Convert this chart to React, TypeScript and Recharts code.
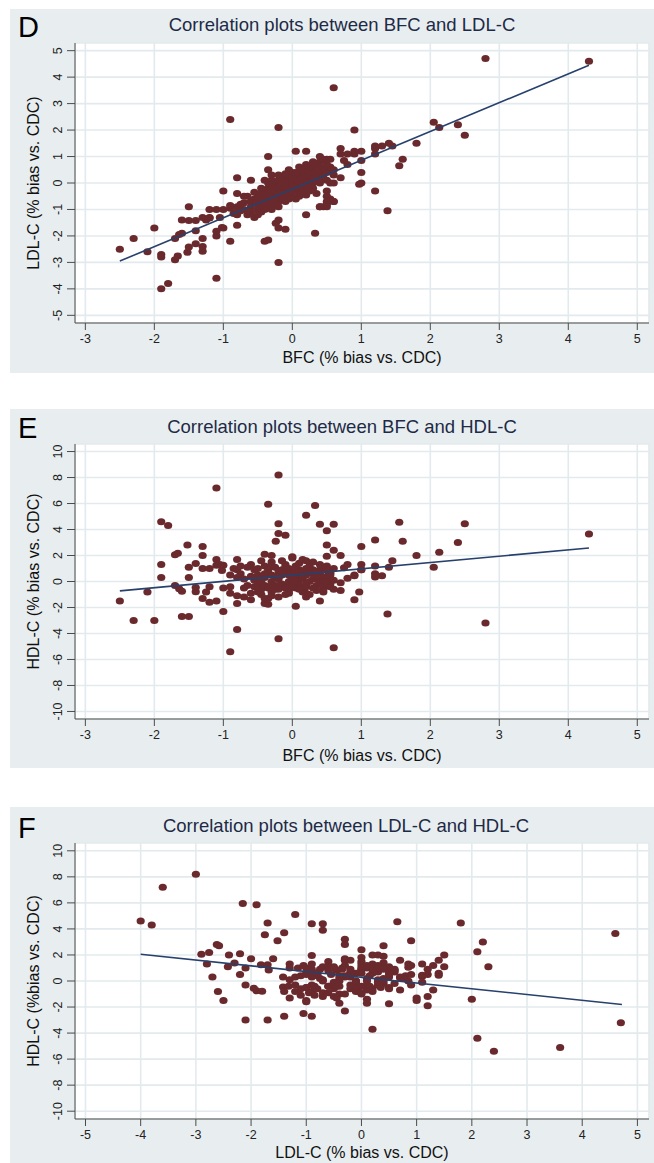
import { ScatterChart, Scatter, XAxis, YAxis, CartesianGrid, Label } from "recharts";

// each sample: [BFC bias, LDL-C bias, HDL-C bias] in % vs. CDC
const outlierSamples = [
  [-1.9, -4.0, 4.6], [-1.8, -3.8, 4.3], [-1.1, -3.6, 7.2], [-0.2, -3.0, 8.2],
  [-1.7, -2.9, 2.05], [-1.66, -2.76, 2.18], [-1.9, -2.8, 1.3], [-1.9, -2.7, 0.3],
  [-1.52, -2.62, 2.8], [-1.3, -2.58, 2.7], [-2.1, -2.6, -0.8], [-2.5, -2.5, -1.5],
  [-1.3, -2.4, 2.0], [-1.5, -2.42, 1.1], [-1.4, -2.3, 1.38], [-0.4, -2.2, 2.1],
  [-0.9, -2.2, 0.5], [-0.35, -2.15, 5.95], [-1.3, -2.1, 1.0], [-1.7, -2.1, -0.3],
  [-2.3, -2.1, -3.0], [-1.1, -2.0, 1.7], [0.33, -1.9, 5.85], [-1.64, -1.95, -0.55],
  [-1.6, -1.9, -0.75], [-1.4, -1.8, -0.78], [-1.1, -1.82, 1.25], [-0.1, -1.75, 3.55],
  [-0.2, -1.7, 4.45], [-1.0, -1.7, 1.25], [-1.02, -1.68, 0.85], [-2.0, -1.7, -3.0],
  [-0.8, -1.6, 1.7], [-0.24, -1.52, 3.1], [-0.2, -1.4, 3.7], [-1.5, -1.42, 0.3],
  [-1.6, -1.4, -2.7], [-1.4, -1.42, -0.46], [-1.25, -1.4, -0.8], [-1.05, -1.3, 1.3],
  [-1.2, -1.3, 1.0], [-1.3, -1.3, -1.3], [-1.2, -1.32, -0.4], [0.2, -1.2, 5.1],
  [-0.85, -1.15, 1.0], [-0.8, -1.2, 0.3], [1.38, -1.05, -2.5], [-1.2, -1.0, -1.6],
  [-1.1, -1.0, -1.5], [-1.0, -1.0, -0.5], [-0.9, -0.95, -0.9], [0.4, -0.9, 4.4],
  [-1.5, -0.9, -2.7], [0.5, -0.9, 1.95], [0.6, -0.7, 4.4], [0.5, -0.7, 3.9],
  [-0.8, -0.4, -1.7], [1.2, -0.3, 3.2], [0.5, -0.3, 2.8], [-1.0, -0.3, -2.3],
  [-0.8, 0.2, -3.7], [-0.4, 0.1, -1.7], [-0.6, 0.1, -1.4], [1.0, 0.4, 2.7],
  [-0.35, 0.5, -1.75], [1.55, 0.65, 4.55], [1.6, 0.9, 3.1], [0.4, 1.0, -1.5],
  [-0.35, 1.0, -1.3], [0.05, 1.2, -1.9], [0.2, 1.2, -1.2], [0.7, 1.3, -0.7],
  [1.45, 1.4, 1.6], [1.8, 1.5, 2.0], [1.4, 1.5, 1.1], [1.3, 1.4, 0.45],
  [2.5, 1.8, 4.45], [0.9, 2.0, -1.4], [2.13, 2.1, 2.25], [-0.2, 2.1, -4.4],
  [2.4, 2.2, 3.0], [2.05, 2.3, 1.1], [-0.9, 2.4, -5.4], [0.6, 3.6, -5.1],
  [4.3, 4.6, 3.65], [2.8, 4.7, -3.2],
];

const spreadSamples = [
  [1.2, 1.4, 0.6], [1.2, 1.3, 1.2], [1.2, 1.1, 0.35], [1.0, 1.2, 0.9],
  [1.0, 0.85, 1.3], [1.0, 0.0, 0.9], [0.97, -0.05, -0.8], [0.9, 1.2, 0.5],
  [0.9, 1.1, 0.45], [0.8, 1.1, 1.3], [0.8, 0.7, 0.25], [0.75, 0.85, 1.05],
  [0.7, 1.1, -0.1], [0.7, 0.2, 2.0], [0.6, 0.0, 2.4], [0.0, 0.4, 1.9],
  [-0.3, 0.3, 2.0], [0.45, 0.85, 0.0], [0.5, 0.9, 1.2], [0.55, 0.5, 0.7],
  [0.45, -0.9, -0.8], [0.5, -0.8, 0.4], [0.55, -0.6, -0.4], [0.6, -0.7, 0.1],
  [0.4, -0.9, 0.6], [-0.9, -0.85, -0.4], [-0.8, -0.9, 0.9], [-0.8, -1.1, -1.1],
];

const clusterSamples = [
  [-0.75, -0.8, 0.6], [-0.7, -1.0, -0.5], [-0.7, -0.75, 0.2], [-0.65, -1.2, -0.3],
  [-0.6, -0.9, 1.3], [-0.6, -0.7, -0.9], [-0.55, -1.3, 0.1], [-0.55, -0.6, -0.4],
  [-0.5, -1.0, 1.0], [-0.5, -0.5, -0.2], [-0.5, -0.8, 0.5], [-0.45, -0.4, -1.0],
  [-0.45, -0.7, 0.0], [-0.45, -1.1, -0.6], [-0.4, -0.3, 0.3], [-0.4, -0.6, 1.2],
  [-0.4, -0.9, -0.3], [-0.4, -0.45, -1.3], [-0.35, -0.2, 0.7], [-0.35, -0.5, -0.5],
  [-0.35, -0.75, 0.9], [-0.3, -0.4, 0.0], [-0.3, -0.1, -0.8], [-0.3, -0.6, 1.5],
  [-0.3, -0.85, -1.1], [-0.25, -0.3, 0.4], [-0.25, -0.5, -0.3], [-0.25, 0.0, 1.1],
  [-0.2, -0.2, -0.6], [-0.2, -0.45, 0.8], [-0.2, -0.7, -1.2], [-0.2, 0.1, 0.2],
  [-0.15, -0.3, 1.6], [-0.15, -0.1, -0.2], [-0.15, -0.55, 0.5], [-0.1, 0.0, -1.0],
  [-0.1, -0.2, 0.6], [-0.1, -0.4, -0.4], [-0.1, 0.2, 1.3], [-0.05, -0.1, 0.0],
  [-0.05, -0.35, 1.0], [-0.05, 0.1, -0.7], [0.0, -0.2, 0.3], [0.0, 0.0, 1.8],
  [0.0, -0.5, -0.1], [0.0, 0.3, 0.7], [0.05, -0.1, -0.5], [0.05, 0.15, 0.4],
  [0.05, -0.3, 1.2], [0.1, 0.0, 0.9], [0.1, -0.2, -0.3], [0.1, 0.3, 0.1],
  [0.1, 0.4, 1.4], [0.15, -0.1, 0.6], [0.15, 0.2, -0.8], [0.15, -0.4, 0.2],
  [0.2, 0.1, 1.0], [0.2, 0.4, -0.2], [0.2, -0.2, 0.5], [0.2, 0.0, -0.9],
  [0.25, 0.3, 1.2], [0.25, -0.1, 0.0], [0.3, 0.2, 0.6], [0.3, 0.5, -0.5],
  [0.3, 0.0, 1.5], [0.35, 0.4, 0.2], [0.35, 0.1, -0.3], [0.4, 0.6, 0.9],
  [0.4, 0.3, -0.1], [0.4, 0.8, 0.4], [0.45, 0.5, 1.1], [0.45, 0.2, -0.6],
  [0.5, 0.7, 0.3], [0.5, 0.4, 0.9], [0.55, 0.6, -0.2], [0.55, 0.0, 0.6],
  [0.6, 0.3, 1.0],
];

const looseClusterSamples = [
  [-0.65, -0.5, 1.1], [-0.6, -1.1, 0.4], [-0.55, -0.35, 0.9], [-0.5, -1.2, -0.8],
  [-0.45, -0.2, 1.6], [-0.4, -1.0, 0.6], [-0.35, 0.0, -0.4], [-0.3, -1.0, 0.5],
  [-0.3, 0.1, 1.2], [-0.25, -0.8, -0.6], [-0.2, 0.3, -0.3], [-0.2, -0.9, 0.3],
  [-0.15, 0.2, 0.9], [-0.1, -0.7, 1.1], [-0.1, 0.35, -0.5], [-0.05, -0.6, -0.9],
  [0.0, 0.15, -0.4], [0.05, -0.6, 0.8], [0.05, 0.4, 0.0], [0.1, -0.5, -0.6],
  [0.1, 0.6, 0.7], [0.15, -0.3, 1.7], [0.15, 0.5, 0.3], [0.2, -0.45, -0.4],
  [0.25, 0.6, 0.8], [0.25, -0.3, -1.0], [0.3, 0.8, 0.2], [0.3, -0.2, 0.9],
  [0.35, 0.7, -0.7], [0.35, -0.4, 0.4], [0.4, 0.0, 1.3], [0.45, 0.9, -0.3],
  [0.5, 0.1, 0.0], [0.5, -0.5, 1.0], [0.55, 0.9, 0.5], [0.6, 0.5, -0.6],
  [-0.7, -0.5, -1.2], [-0.75, -1.05, 1.2], [0.2, 0.7, 1.6], [-0.05, 0.5, 0.5],
];

// fitted regression lines, end points
const fitBfcLdl = [{ x: -2.5, y: -2.95 }, { x: 4.3, y: 4.45 }];
const fitBfcHdl = [{ x: -2.5, y: -0.72 }, { x: 4.3, y: 2.58 }];
const fitLdlHdl = [{ x: -4.0, y: 2.05 }, { x: 4.72, y: -1.8 }];

const bfcTicks = [-3, -2, -1, 0, 1, 2, 3, 4, 5];
const ldlXTicks = [-5, -4, -3, -2, -1, 0, 1, 2, 3, 4, 5];
const ldlYTicks = [-5, -4, -3, -2, -1, 0, 1, 2, 3, 4, 5];
const hdlTicks = [-10, -8, -6, -4, -2, 0, 2, 4, 6, 8, 10];

const samples = [...outlierSamples, ...spreadSamples, ...clusterSamples, ...looseClusterSamples];

const PANEL_BG = "#e8eef0";
const GRID = "#e3eaed";
const DOT = "#6a2a2d";
const FIT = "#27406c";
const AXIS = "#4a4a4a";

const YTick = (props: any) => {
  const { x, y, payload } = props;
  return (
    <text x={x} y={y} transform={`rotate(-90 ${x} ${y})`} textAnchor="middle" dominantBaseline="central" fontSize={12.5} fill="#222">
      {payload.value}
    </text>
  );
};

const Dot = (props: any) => <ellipse cx={props.cx} cy={props.cy} rx={4.1} ry={3.5} fill={DOT} />;

interface IPanel {
  letter: string;
  title: string;
  xLabel: string;
  yLabel: string;
  points: { x: number; y: number }[];
  fit: { x: number; y: number }[];
  xTicks: number[];
  yTicks: number[];
  xDomain: [number, number];
  yDomain: [number, number];
  top: number;
  height: number;
  marginTop: number;
  marginBottom: number;
  xAxisHeight: number;
  titleY: number;
  letterY: number;
  titleX: number;
}

function Panel(p: IPanel) {
  return (
    <div style={{ position: "absolute", left: 10, top: p.top, width: 644, height: p.height, background: PANEL_BG }}>
      <ScatterChart width={644} height={p.height} margin={{ top: p.marginTop, right: 5, bottom: p.marginBottom, left: 15 }}>
        <CartesianGrid stroke={GRID} strokeWidth={1.6} fill="#ffffff" fillOpacity={1} />
        <XAxis
          type="number"
          dataKey="x"
          domain={p.xDomain}
          ticks={p.xTicks}
          allowDataOverflow
          height={p.xAxisHeight}
          tickSize={7}
          tickMargin={4}
          stroke={AXIS}
          tick={{ fontSize: 12.5, fill: "#222" }}
        >
          <Label value={p.xLabel} position="insideBottom" offset={0} fontSize={16} fill="#111" />
        </XAxis>
        <YAxis
          type="number"
          dataKey="y"
          domain={p.yDomain}
          ticks={p.yTicks}
          allowDataOverflow
          width={50}
          tickSize={8}
          tickMargin={9}
          stroke={AXIS}
          tick={<YTick />}
        >
          <Label value={p.yLabel} angle={-90} position="insideLeft" offset={8} fontSize={16} fill="#111" style={{ textAnchor: "middle" }} />
        </YAxis>
        <Scatter data={p.points} shape={<Dot />} isAnimationActive={false} />
        <Scatter data={p.fit} line={{ stroke: FIT, strokeWidth: 1.6 }} shape={() => <g />} isAnimationActive={false} />
      </ScatterChart>
      <svg width={644} height={60} style={{ position: "absolute", left: 0, top: 0, pointerEvents: "none" }}>
        <text x={8} y={p.letterY} fontSize={29} fill="#000">{p.letter}</text>
        <text x={p.titleX} y={p.titleY} fontSize={18.5} fill="#1e2a46" textAnchor="middle">{p.title}</text>
      </svg>
    </div>
  );
}

export default function App() {
  const bfcLdl = samples.map(([b, l]) => ({ x: b, y: l }));
  const bfcHdl = samples.map(([b, , h]) => ({ x: b, y: h }));
  const ldlHdl = samples.map(([, l, h]) => ({ x: l, y: h }));
  return (
    <div style={{ position: "absolute", left: 0, top: 0, width: 654, height: 1163, background: "#fff", fontFamily: "'Liberation Sans', Arial, sans-serif" }}>
      <Panel
        letter="D"
        title="Correlation plots between BFC and LDL-C"
        xLabel="BFC (% bias vs. CDC)"
        yLabel="LDL-C (% bias vs. CDC)"
        points={bfcLdl}
        fit={fitBfcLdl}
        xTicks={bfcTicks}
        yTicks={ldlYTicks}
        xDomain={[-3.15, 5.17]}
        yDomain={[-5.29, 5.29]}
        top={9}
        height={364}
        marginTop={34}
        marginBottom={10}
        xAxisHeight={40}
        titleY={22}
        letterY={28}
        titleX={332}
      />
      <Panel
        letter="E"
        title="Correlation plots between BFC and HDL-C"
        xLabel="BFC (% bias vs. CDC)"
        yLabel="HDL-C (% bias vs. CDC)"
        points={bfcHdl}
        fit={fitBfcHdl}
        xTicks={bfcTicks}
        yTicks={hdlTicks}
        xDomain={[-3.15, 5.17]}
        yDomain={[-10.58, 10.58]}
        top={409}
        height={359}
        marginTop={35}
        marginBottom={7}
        xAxisHeight={42}
        titleY={24}
        letterY={29}
        titleX={332}
      />
      <Panel
        letter="F"
        title="Correlation plots between LDL-C and HDL-C"
        xLabel="LDL-C (% bias vs. CDC)"
        yLabel="HDL-C (%bias vs. CDC)"
        points={ldlHdl}
        fit={fitLdlHdl}
        xTicks={ldlXTicks}
        yTicks={hdlTicks}
        xDomain={[-5.19, 5.21]}
        yDomain={[-10.6, 10.6]}
        top={807}
        height={356}
        marginTop={36}
        marginBottom={5}
        xAxisHeight={39}
        titleY={25}
        letterY={31}
        titleX={336}
      />
    </div>
  );
}
